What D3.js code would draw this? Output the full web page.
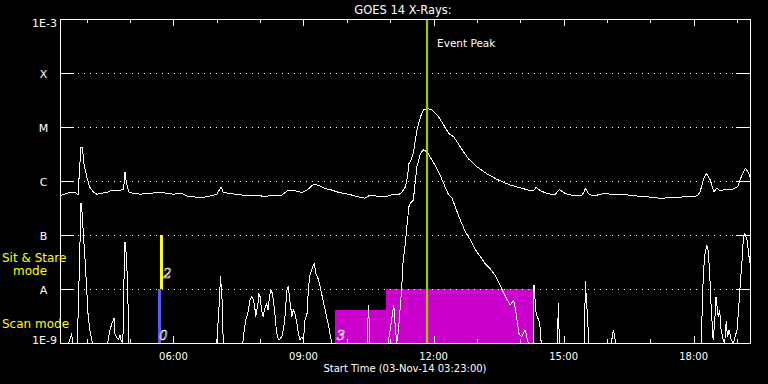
<!DOCTYPE html>
<html><head><meta charset="utf-8">
<script src="https://cdn.jsdelivr.net/npm/d3@7"></script>
<style>html,body{margin:0;padding:0;background:#000;}svg{display:block;}</style>
</head><body>
<svg id="chart" width="768" height="384"></svg>
<script>
// ---------- data ----------
const chartTitle = "GOES 14 X-Rays:";
const xAxisTitle = "Start Time (03-Nov-14 03:23:00)";
const timeDomain = ["03:23", "19:18"];
const fluxDomain = [1e-9, 1e-3];
const levelValues = [1e-3, 1e-4, 1e-5, 1e-6, 1e-7, 1e-8, 1e-9];
const levelLabels = ["1E-3", "X", "M", "C", "B", "A", "1E-9"];
const gridLevels = [1e-4, 1e-5, 1e-6, 1e-7, 1e-8];
const labelledHours = ["06:00", "09:00", "12:00", "15:00", "18:00"];

const longTimes = ["03:23","03:37","03:44","03:48","03:50","03:52","03:54","03:56","04:00","04:04","04:09","04:14","04:23","04:30","04:35","04:44","04:51","04:53","04:55","04:58","05:04","05:14","05:28","05:41","05:51","06:00","06:11","06:18","06:28","06:37","06:46","07:00","07:06","07:09","07:18","07:25","07:35","07:53","08:07","08:21","08:30","08:39","08:48","08:58","09:05","09:14","09:21","09:30","09:39","09:48","10:02","10:16","10:25","10:32","10:39","10:53","11:05","11:11","11:16","11:21","11:24","11:26","11:28","11:32","11:37","11:42","11:46","11:51","11:58","12:07","12:14","12:21","12:28","12:37","12:48","13:00","13:14","13:28","13:46","14:00","14:14","14:18","14:22","14:28","14:37","14:48","14:54","15:02","15:14","15:25","15:29","15:30","15:35","15:41","15:58","16:07","16:25","16:39","16:55","17:14","17:30","17:48","18:05","18:09","18:14","18:18","18:23","18:28","18:32","18:37","18:44","18:53","19:01","19:04","19:09","19:12","19:16","19:18"];
const longFlux = [5.3e-7,6.2e-7,6.2e-7,5.5e-7,1.6e-6,4.2e-6,4.1e-6,2.15e-6,1.2e-6,7.8e-7,6.3e-7,5.7e-7,6.0e-7,6.3e-7,6.8e-7,6.6e-7,7.0e-7,1.45e-6,9.2e-7,6.3e-7,5.9e-7,5.7e-7,5.9e-7,6.2e-7,5.9e-7,5.7e-7,5.9e-7,5.3e-7,5.1e-7,4.9e-7,5.1e-7,5.7e-7,7.8e-7,6.1e-7,5.9e-7,5.7e-7,5.5e-7,5.4e-7,5.2e-7,5.5e-7,5.5e-7,6.8e-7,6.6e-7,6.1e-7,6.8e-7,8.7e-7,8.3e-7,7.2e-7,6.8e-7,6.2e-7,5.7e-7,5.1e-7,4.8e-7,5.5e-7,5.3e-7,5.1e-7,5.7e-7,5.5e-7,6.1e-7,7.8e-7,1.2e-6,2.1e-6,2.3e-6,3.3e-6,8.8e-6,1.55e-5,2.07e-5,2.2e-5,2.07e-5,1.55e-5,1.09e-5,7.6e-6,6.6e-6,4.3e-6,2.6e-6,1.84e-6,1.35e-6,1.07e-6,8.4e-7,7.5e-7,6.6e-7,6.6e-7,7.6e-7,6.6e-7,5.9e-7,5.5e-7,7.0e-7,5.9e-7,5.3e-7,5.3e-7,6.6e-7,7.3e-7,5.7e-7,5.3e-7,5.9e-7,5.6e-7,5.6e-7,5.3e-7,5.1e-7,4.8e-7,4.9e-7,5.1e-7,5.3e-7,6.3e-7,1.12e-6,1.39e-6,1.04e-6,6.3e-7,7.3e-7,6.6e-7,7.0e-7,7.0e-7,7.8e-7,1.04e-6,1.49e-6,1.72e-6,1.39e-6,1.2e-6];

const shortTimes = ["03:23","03:35","03:39","03:41","03:47","03:50","03:52","03:53","03:55","03:58","04:00","04:02","04:05","04:08","04:29","04:32","04:35","04:38","04:39","04:41","04:44","04:46","04:48","04:50","04:52","04:53","04:55","04:57","04:58","07:00","07:04","07:05","07:07","07:09","07:36","07:38","07:40","07:43","07:46","07:48","07:51","07:53","07:54","07:57","07:58","08:00","08:02","08:04","08:07","08:09","08:11","08:13","08:15","08:17","08:20","08:22","08:24","08:26","08:30","08:32","08:34","08:37","08:39","08:41","08:44","08:46","08:48","08:51","08:53","08:55","08:58","09:00","09:02","09:05","09:07","09:09","09:12","09:15","09:17","09:21","09:24","09:28","09:31","09:35","09:39","10:28","10:30","10:32","10:57","11:00","11:02","11:05","11:07","11:09","11:11","11:14","11:16","11:18","11:21","11:23","11:24","11:26","11:28","11:32","11:35","11:37","11:42","11:46","11:51","11:55","12:02","12:09","12:16","12:21","12:25","12:30","12:37","12:44","12:51","12:58","13:05","13:11","13:18","13:25","13:31","13:35","13:42","13:46","13:51","13:55","13:58","14:02","14:07","14:11","14:18","14:19","14:22","14:27","14:29","14:51","14:53","14:54","15:29","15:30","15:32","15:35","16:06","16:09","16:12","18:11","18:12","18:15","18:18","18:20","18:22","18:24","18:27","18:29","18:31","18:34","18:36","18:38","18:41","18:43","18:45","18:47","18:49","18:52","18:55","19:00","19:02","19:04","19:07","19:09","19:11","19:14","19:16","19:18"];
const shortFlux = [1e-9,1e-9,1.47e-9,1e-9,1e-9,3.0e-8,3.9e-7,3.3e-7,1.24e-7,3.0e-8,9.6e-9,3.1e-9,1.5e-9,1e-9,1e-9,1.7e-9,2.35e-9,2.9e-9,1.5e-9,1.3e-9,1.14e-9,1.4e-9,1.06e-9,1e-9,3.0e-8,7.5e-8,4.0e-8,7.2e-9,1e-9,1e-9,7.2e-9,1.7e-8,8.3e-9,1e-9,1e-9,1.74e-9,2.67e-9,3.55e-9,6.25e-9,7.2e-9,6.25e-9,4.1e-9,3.1e-9,5.4e-9,8.3e-9,7.2e-9,4.1e-9,3.1e-9,4.7e-9,5.3e-9,4.1e-9,7.2e-9,9.6e-9,8.3e-9,4.1e-9,2.0e-9,1.3e-9,1.14e-9,1.3e-9,1.74e-9,2.67e-9,9.6e-9,1.1e-8,6.25e-9,3.1e-9,4.1e-9,3.55e-9,2.3e-9,1.5e-9,1.14e-9,1.3e-9,1.14e-9,2.67e-9,3.55e-9,1.1e-8,1.82e-8,2.42e-8,2.99e-8,1.95e-8,1.47e-8,9.6e-9,5.4e-9,3.55e-9,2.0e-9,1e-9,1e-9,5.05e-9,1e-9,1e-9,1.74e-9,2.67e-9,5.05e-9,2.0e-9,1e-9,1.5e-9,4.7e-9,1.1e-8,3.44e-8,7.0e-8,1.43e-7,1.9e-7,3.34e-7,3.86e-7,4.45e-7,1.04e-6,1.84e-6,3.26e-6,3.75e-6,3.49e-6,2.82e-6,1.98e-6,1.29e-6,7.8e-7,5.5e-7,5.0e-7,3.34e-7,1.9e-7,1.15e-7,8.1e-8,5.3e-8,3.96e-8,2.99e-8,2.42e-8,1.82e-8,1.28e-8,9.6e-9,6.25e-9,5.05e-9,6.25e-9,3.07e-9,1.51e-9,1.31e-9,1.74e-9,1e-9,1e-9,1.19e-8,3.55e-9,2.32e-9,1e-9,1e-9,5.4e-9,1e-9,1e-9,1.37e-8,5.4e-9,1e-9,1e-9,1.74e-9,1e-9,1e-9,7.2e-9,3.96e-8,6.5e-8,5.3e-8,2.25e-8,5.4e-9,1.14e-9,2.32e-9,7.2e-9,3.07e-9,4.08e-9,1.74e-9,1.14e-9,1e-9,2.48e-9,1.31e-9,1.74e-9,1.14e-9,1e-9,1.74e-9,3.8e-9,9.6e-9,3.44e-8,9.3e-8,1.07e-7,8.1e-8,4.58e-8,3.0e-8];

const eventPeakTime = "11:51";
const eventPeakText = "Event Peak";

// scan-mode coverage steps
const scanStart = ["09:44", "10:54"];
const scanEnd = ["10:54", "14:18"];
const scanLevel = [4.1e-9, 1e-8];
const scanNumber = "3";

// mode markers (Sit & Stare / Scan)
const modeNames = ["Sit & Stare", "Scan"];
const modeTimes = ["05:43", "05:41"];
const modeLow = [1e-8, 1e-9];
const modeHigh = [1e-7, 1e-8];
const modeNumbers = ["2", "0"];

// ---------- styles ----------
const FG = "#ffffff";
const MODE_COLORS = ["#ffff00", "#5a5aff"];
const SCAN_COLOR = "#cc00cc";
const PEAK_COLOR = "#a0c800";
const LABEL_COLOR = "#ffff00";
const FONT = "DejaVu Sans, sans-serif";

// ---------- scales ----------
const parseT = d3.timeParse("%H:%M");
const L = 60, R = 750, T = 19, B = 343;
const x = d3.scaleTime().domain(timeDomain.map(parseT)).range([L, R]);
const y = d3.scaleLog().domain(fluxDomain).range([B, T]);
const yc = v => y(Math.max(v, fluxDomain[0]));

const svg = d3.select("#chart");
svg.append("rect").attr("width", 768).attr("height", 384).attr("fill", "#000");

svg.append("defs").append("clipPath").attr("id", "plot")
  .append("rect").attr("x", L).attr("y", T).attr("width", R - L).attr("height", B - T);

// scan coverage (magenta)
const scanG = svg.append("g").attr("clip-path", "url(#plot)");
scanStart.forEach((s, i) => {
  const x0 = x(parseT(s)), x1 = x(parseT(scanEnd[i]));
  scanG.append("rect").attr("x", x0).attr("width", x1 - x0)
    .attr("y", y(scanLevel[i])).attr("height", B - y(scanLevel[i]))
    .attr("fill", SCAN_COLOR).attr("shape-rendering", "crispEdges");
});

// grid lines (dotted)
const grid = svg.append("g").attr("shape-rendering", "crispEdges");
gridLevels.forEach(v => {
  grid.append("line").attr("x1", L + 17.5).attr("x2", R - 14)
    .attr("y1", Math.round(y(v)) + 0.5).attr("y2", Math.round(y(v)) + 0.5)
    .attr("stroke", FG).attr("stroke-width", 1).attr("stroke-dasharray", "1,5");
});

// mode markers
modeTimes.forEach((t, i) => {
  svg.append("line").attr("x1", x(parseT(t))).attr("x2", x(parseT(t)))
    .attr("y1", y(modeHigh[i])).attr("y2", y(modeLow[i]))
    .attr("stroke", MODE_COLORS[i]).attr("stroke-width", 3).attr("shape-rendering", "crispEdges");
});

// data lines
const line = d3.line().x(d => x(d[0])).y(d => yc(d[1]));
const dataG = svg.append("g").attr("clip-path", "url(#plot)");
const longData = longTimes.map((t, i) => [parseT(t), longFlux[i]]);
const shortData = shortTimes.map((t, i) => [parseT(t), shortFlux[i]]);
[longData, shortData].forEach(d => {
  dataG.append("path").datum(d).attr("d", line).attr("fill", "none")
    .attr("stroke", FG).attr("stroke-width", 1).attr("stroke-linejoin", "round")
    .attr("shape-rendering", "crispEdges");
});

// event peak line
const xp = x(parseT(eventPeakTime));
svg.append("line").attr("x1", xp).attr("x2", xp).attr("y1", T).attr("y2", B)
  .attr("stroke", PEAK_COLOR).attr("stroke-width", 2.2);
svg.append("text").attr("x", xp + 10).attr("y", 47).text(eventPeakText)
  .attr("fill", FG).attr("font-family", FONT).attr("font-size", 10.5);

// small numbers
const numStyle = s => s.attr("fill", "none").attr("stroke", FG).attr("stroke-width", 0.6)
  .attr("font-family", "DejaVu Serif, serif").attr("font-style", "italic").attr("font-size", 13);
numStyle(svg.append("text").attr("x", x(parseT(modeTimes[0])) + 2).attr("y", 277.5).text(modeNumbers[0]));
numStyle(svg.append("text").attr("x", x(parseT(modeTimes[1])) - 0.5).attr("y", 339.5).text(modeNumbers[1]));
numStyle(svg.append("text").attr("x", x(parseT(scanStart[0])) + 1.5).attr("y", 339.5).text(scanNumber));

// frame
const ax = svg.append("g").attr("stroke", FG).attr("stroke-width", 1).attr("shape-rendering", "crispEdges");
ax.append("rect").attr("x", L + 0.5).attr("y", T + 0.5).attr("width", R - L).attr("height", B - T).attr("fill", "none");

// y ticks left and right
levelValues.forEach(v => {
  const yy = Math.round(y(v)) + 0.5;
  ax.append("line").attr("x1", L).attr("x2", L + 14).attr("y1", yy).attr("y2", yy);
  ax.append("line").attr("x1", R - 14).attr("x2", R).attr("y1", yy).attr("y2", yy);
});

// x ticks top and bottom
const labelled = new Set(labelledHours);
const fmt = d3.timeFormat("%H:%M");
x.ticks(d3.timeHour.every(1)).forEach(t => {
  const xx = Math.round(x(t)) + 0.5;
  const len = labelled.has(fmt(t)) ? 7 : 4;
  ax.append("line").attr("x1", xx).attr("x2", xx).attr("y1", T).attr("y2", T + len);
  ax.append("line").attr("x1", xx).attr("x2", xx).attr("y1", B).attr("y2", B - len);
});

// text
const txt = svg.append("g").attr("fill", FG).attr("font-family", FONT);
labelledHours.forEach(h => {
  txt.append("text").attr("x", x(parseT(h))).attr("y", 359.5).attr("text-anchor", "middle")
    .attr("font-size", 10).text(h);
});
txt.append("text").attr("x", 405).attr("y", 372).attr("text-anchor", "middle")
  .attr("font-size", 10).text(xAxisTitle);
txt.append("text").attr("x", 403).attr("y", 13.5).attr("text-anchor", "middle")
  .attr("font-size", 11.5).text(chartTitle);

levelLabels.forEach((lab, i) => {
  const yy = y(levelValues[i]);
  const isNum = lab.length > 1;
  const base = i === 0 ? yy + 8 : (i === levelLabels.length - 1 ? yy + 0.5 : yy + 4.5);
  txt.append("text").attr("x", isNum ? 57 : 43.5).attr("y", base)
    .attr("text-anchor", isNum ? "end" : "middle").attr("font-size", 11).text(lab);
});

// mode legend labels
const lg = svg.append("g").attr("fill", LABEL_COLOR).attr("font-family", FONT).attr("font-size", 12);
lg.append("text").attr("x", 2).attr("y", 262).text(modeNames[0]);
lg.append("text").attr("x", 13).attr("y", 275).text("mode");
lg.append("text").attr("x", 2).attr("y", 328).text(modeNames[1] + " mode");
</script>
</body></html>
